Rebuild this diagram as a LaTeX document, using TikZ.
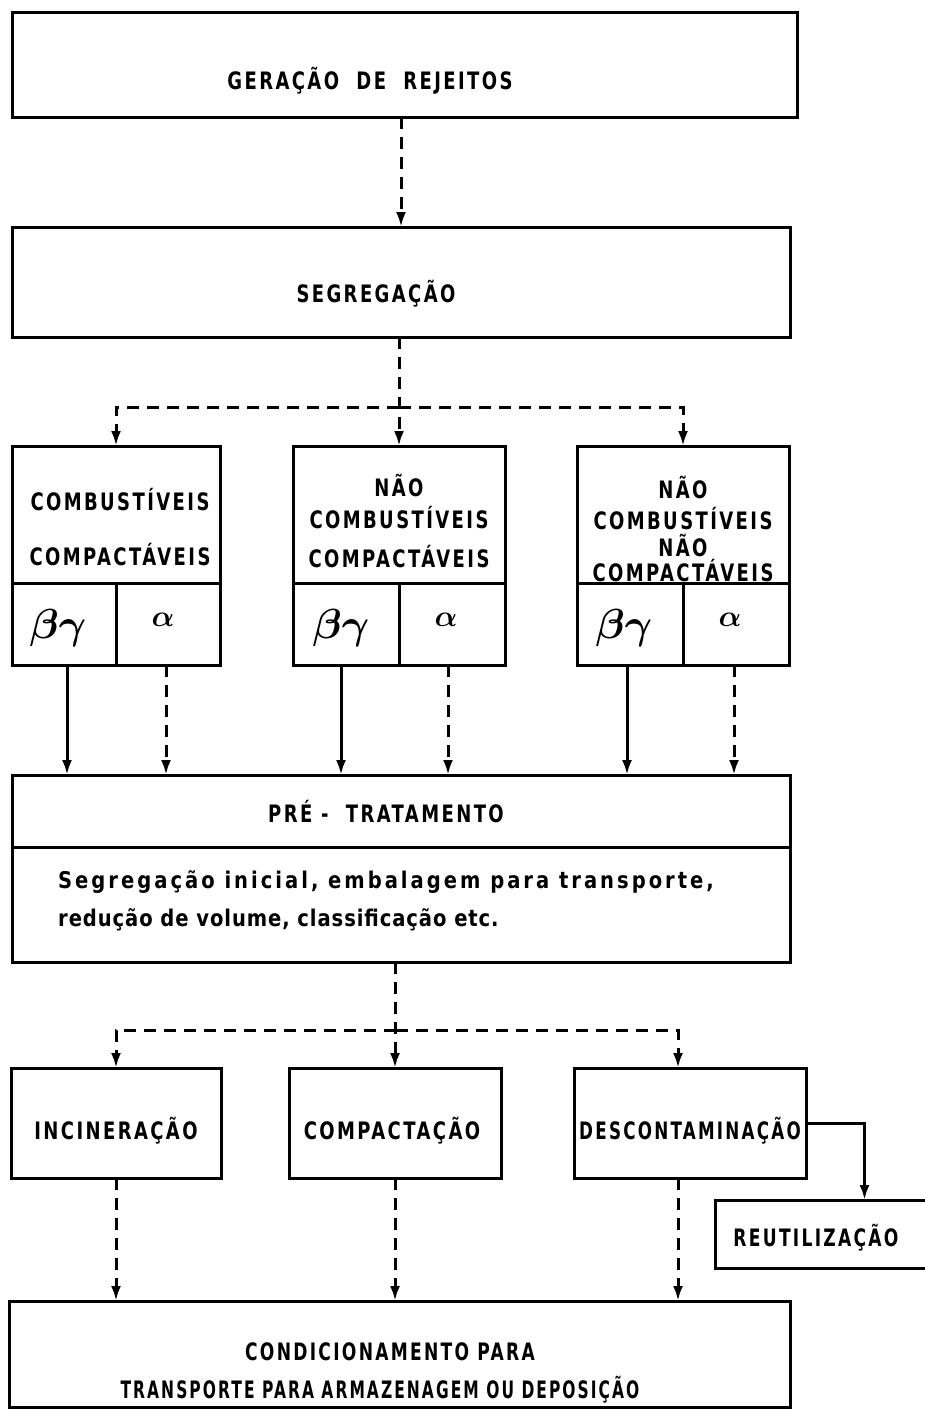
\documentclass[tikz,border=0pt]{standalone}
\usepackage{bm}
\usepackage{fontspec}
\newfontfamily\tw{DejaVu Sans}[FakeStretch=0.75,LetterSpace=10]
\newfontfamily\twl{DejaVu Sans}[FakeStretch=0.85,LetterSpace=4]
\newfontfamily\twm{DejaVu Sans}[FakeStretch=0.85,LetterSpace=13]
\usetikzlibrary{arrows.meta}
\begin{document}
\begin{tikzpicture}[x=1pt,y=-1pt,
  box/.style={draw, line width=3pt, inner sep=0pt, outer sep=0pt},
  lbl/.style={inner sep=0pt, font=\tw\bfseries\fontsize{24}{24}\selectfont},
  low/.style={inner sep=0pt, anchor=west, font=\twl\bfseries\fontsize{23}{23}\selectfont},
  conn/.style={line width=3pt, -{Latex[length=15pt,width=10pt]}},
  dsh/.style={conn, dash pattern=on 12pt off 8pt},
  div/.style={line width=3pt},
  greek/.style={inner sep=0pt}
]
\useasboundingbox (0,0) rectangle (925,1409);
\fill[white] (0,0) rectangle (925,1409);

% boxes
\node[box, minimum width=785pt, minimum height=105pt] (gen) at (404.5,64.5) {};
\node[box, minimum width=778pt, minimum height=110pt] (seg) at (401,282) {};
\node[box, minimum width=208pt, minimum height=219pt] (A) at (116,555.5) {};
\node[box, minimum width=212pt, minimum height=219pt] (B) at (399,555.5) {};
\node[box, minimum width=212pt, minimum height=219pt] (C) at (683,555.5) {};
\node[box, minimum width=778pt, minimum height=187pt] (pre) at (401,868.5) {};
\node[box, minimum width=210pt, minimum height=110pt] (inc) at (116,1123) {};
\node[box, minimum width=212pt, minimum height=110pt] (comp) at (395,1123) {};
\node[box, minimum width=232pt, minimum height=110pt] (desc) at (690,1123) {};
\node[box, minimum width=225pt, minimum height=68pt] (reu) at (827.5,1234) {};
\node[box, minimum width=781pt, minimum height=106pt] (cond) at (399.5,1354) {};

% dividers
\coordinate (dv) at (0,583);
\coordinate (dp) at (0,847);
\foreach \b in {A,B,C}{
  \draw[div] (\b.west |- dv) -- (\b.east |- dv);
  \draw[div] (\b.south |- dv) -- (\b.south);
}
\draw[div] (pre.west |- dp) -- (pre.east |- dp);

% texts
\node[lbl] (tgen) at (370,81) {GERAÇÃO~~DE~~REJEITOS};
\node[lbl] (tseg) at (376,294) {SEGREGAÇÃO};
\node[lbl] (a1) at (120,500) {COMBUSTÍVEIS};
\node[lbl] (a2) at (120,555) {COMPACTÁVEIS};
\node[lbl] (b1) at (399,485) {NÃO};
\node[lbl] (b2) at (399,518) {COMBUSTÍVEIS};
\node[lbl] (b3) at (399,557) {COMPACTÁVEIS};
\node[lbl] (c1) at (683,487) {NÃO};
\node[lbl] (c2) at (683,519) {COMBUSTÍVEIS};
\node[lbl] (c3) at (683,545) {NÃO};
\node[lbl] (c4) at (683,571) {COMPACTÁVEIS};
\node[greek] (ag) at (58,628) {\scalebox{4.2}{$\bm{\beta\gamma}$}};
\node[greek] (aa) at (163,620) {\scalebox{3}{$\bm{\alpha}$}};
\node[greek] (bg) at (341,628) {\scalebox{4.2}{$\bm{\beta\gamma}$}};
\node[greek] (ba) at (446,620) {\scalebox{3}{$\bm{\alpha}$}};
\node[greek] (cg) at (624,628) {\scalebox{4.2}{$\bm{\beta\gamma}$}};
\node[greek] (ca) at (730,620) {\scalebox{3}{$\bm{\alpha}$}};
\node[lbl] (tpre) at (386,812) {PRÉ~-~~TRATAMENTO};
\node[low, font=\twm\bfseries\fontsize{23}{23}\selectfont] (tl1) at (58,882) {Segregação inicial, embalagem para transporte,};
\node[low] (tl2) at (58,920) {redução de volume, classificação etc.};
\node[lbl] (tinc) at (116,1131) {INCINERAÇÃO};
\node[lbl] (tcomp) at (392,1131) {COMPACTAÇÃO};
\node[lbl] (tdesc) at (690,1131) {\scalebox{0.93}[1]{DESCONTAMINAÇÃO}};
\node[lbl] (treu) at (816,1238) {\scalebox{0.95}[1]{REUTILIZAÇÃO}};
\node[lbl] (tc1) at (390,1352) {\scalebox{0.95}[1]{CONDICIONAMENTO~PARA}};
\node[lbl] (tc2) at (380,1390) {\scalebox{0.86}[1]{TRANSPORTE PARA ARMAZENAGEM OU DEPOSIÇÃO}};

% connectors top
\draw[dsh] (gen.south -| seg.north) -- (seg.north);
\coordinate (sp1) at (399,407);
\draw[dsh] (seg.south -| B.north) -- (B.north);
\draw[dsh] (sp1) -| (A.north);
\draw[dsh] (sp1) -| (C.north);

% cells to pre-treatment
\draw[conn] ([xshift=-49pt]A.south) -- ([xshift=-49pt]A.south |- pre.north);
\draw[dsh]  ([xshift=50pt]A.south) -- ([xshift=50pt]A.south |- pre.north);
\draw[conn] ([xshift=-58pt]B.south) -- ([xshift=-58pt]B.south |- pre.north);
\draw[dsh]  ([xshift=49pt]B.south) -- ([xshift=49pt]B.south |- pre.north);
\draw[conn] ([xshift=-56pt]C.south) -- ([xshift=-56pt]C.south |- pre.north);
\draw[dsh]  ([xshift=51pt]C.south) -- ([xshift=51pt]C.south |- pre.north);

% lower split
\coordinate (sp2) at (396,1030);
\draw[dsh] (pre.south -| comp.north) -- (comp.north);
\draw[dsh] (sp2) -| (inc.north);
\draw[dsh] (sp2) -| ([xshift=-12pt]desc.north);

% to conditioning
\draw[dsh] (inc.south) -- (inc.south |- cond.north);
\draw[dsh] (comp.south) -- (comp.south |- cond.north);
\draw[dsh] ([xshift=-12pt]desc.south) -- ([xshift=-12pt]desc.south |- cond.north);

% reuse
\draw[conn] (desc.east) -| ([xshift=37pt]reu.north);
\end{tikzpicture}
\end{document}
